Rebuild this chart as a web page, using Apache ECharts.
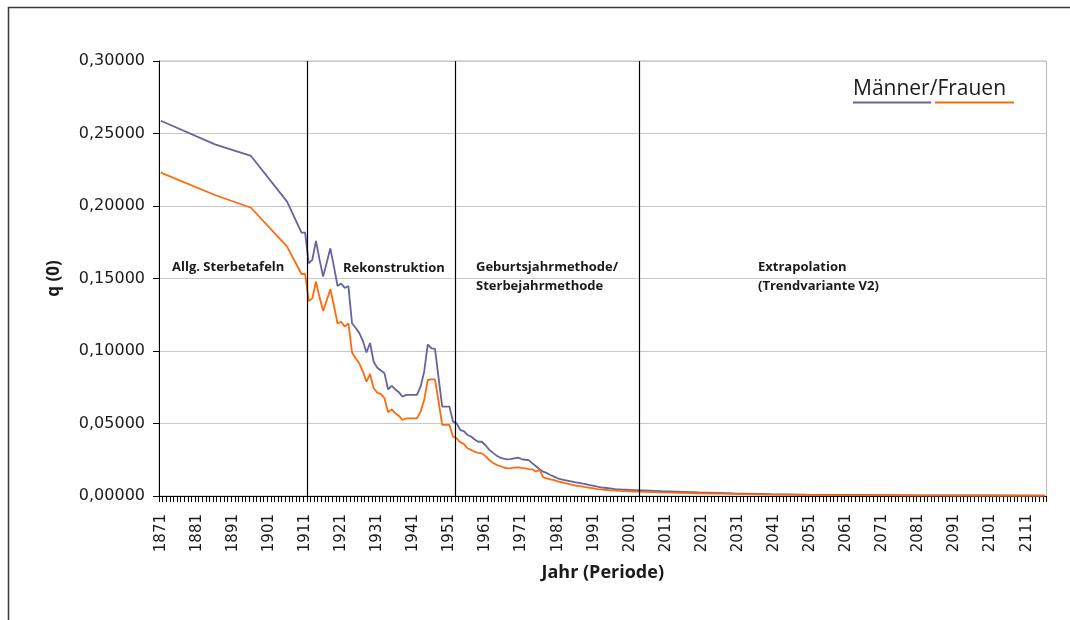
<!DOCTYPE html>
<html>
<head>
<meta charset="utf-8">
<script src="https://cdn.jsdelivr.net/npm/echarts@6/dist/echarts.min.js"></script>
<style>
html,body{margin:0;padding:0;background:#fff;}
#main{width:1070px;height:620px;}
</style>
</head>
<body>
<div id="main"></div>
<script>
// ---- data ----
const firstYear = 1871;
const lastYear = 2116;
const periodBreaks = [1911.5, 1952.75, 2003.5];
const menPoints = [
[1871,0.2588],[1886,0.2425],[1896,0.2345],[1906,0.2030],[1910,0.1816],[1911,0.1816],
[1912,0.1605],[1913,0.1628],[1914,0.1759],[1915,0.1630],[1916,0.1513],[1917,0.1610],[1918,0.1708],[1919,0.1580],
[1920,0.1448],[1921,0.1465],[1922,0.1435],[1923,0.1448],[1924,0.1191],[1925,0.1160],[1926,0.1125],[1927,0.1070],
[1928,0.0990],[1929,0.1055],[1930,0.0926],[1931,0.0885],[1932,0.0865],[1933,0.0846],[1934,0.0736],[1935,0.0759],
[1936,0.0735],[1937,0.0715],[1938,0.0685],[1939,0.0697],[1940,0.0697],[1941,0.0697],[1942,0.0697],[1943,0.0754],
[1944,0.0857],[1945,0.1046],[1946,0.1018],[1947,0.1014],[1948,0.0815],[1949,0.0616],[1950,0.0616],[1951,0.0616],
[1952,0.0513],[1953,0.0501],[1954,0.0455],[1955,0.0448],[1956,0.0421],[1957,0.0410],[1958,0.0390],[1959,0.0374],
[1960,0.0374],[1961,0.0350],[1962,0.0320],[1963,0.0299],[1964,0.0280],[1965,0.0265],[1966,0.0258],[1967,0.0253],
[1968,0.0255],[1969,0.0260],[1970,0.0264],[1971,0.0255],[1972,0.0250],[1973,0.0248],[1974,0.0225],[1975,0.0205],
[1976,0.0185],[1977,0.0168],[1978,0.0158],[1979,0.0145],[1980,0.0134],[1981,0.0122],[1982,0.0115],[1983,0.0109],
[1984,0.0104],[1985,0.0099],[1986,0.0094],[1987,0.0090],[1988,0.0085],[1989,0.0081],[1990,0.0075],[1991,0.0070],
[1992,0.0064],[1993,0.0060],[1994,0.0057],[1995,0.0054],[1996,0.0051],[1997,0.0048],[1998,0.0046],[1999,0.0044],
[2000,0.0043],[2001,0.0042],[2002,0.0041],[2003,0.0040],[2010,0.0033],[2020,0.0025],[2030,0.0018],[2040,0.0013],
[2050,0.0010],[2060,0.0008],[2080,0.0005],[2100,0.0004],[2116,0.0003]
];
const womenPoints = [
[1871,0.2230],[1886,0.2076],[1896,0.1988],[1906,0.1720],[1910,0.1531],[1911,0.1531],
[1912,0.1345],[1913,0.1363],[1914,0.1478],[1915,0.1370],[1916,0.1276],[1917,0.1350],[1918,0.1426],[1919,0.1310],
[1920,0.1190],[1921,0.1202],[1922,0.1168],[1923,0.1191],[1924,0.0990],[1925,0.0950],[1926,0.0915],[1927,0.0860],
[1928,0.0788],[1929,0.0841],[1930,0.0743],[1931,0.0713],[1932,0.0703],[1933,0.0674],[1934,0.0577],[1935,0.0598],
[1936,0.0570],[1937,0.0552],[1938,0.0524],[1939,0.0536],[1940,0.0536],[1941,0.0536],[1942,0.0536],[1943,0.0582],
[1944,0.0662],[1945,0.0800],[1946,0.0805],[1947,0.0805],[1948,0.0650],[1949,0.0490],[1950,0.0490],[1951,0.0490],
[1952,0.0409],[1953,0.0398],[1954,0.0370],[1955,0.0359],[1956,0.0329],[1957,0.0318],[1958,0.0305],[1959,0.0298],
[1960,0.0294],[1961,0.0275],[1962,0.0250],[1963,0.0230],[1964,0.0215],[1965,0.0207],[1966,0.0198],[1967,0.0191],
[1968,0.0192],[1969,0.0196],[1970,0.0198],[1971,0.0194],[1972,0.0191],[1973,0.0186],[1974,0.0184],[1975,0.0168],
[1976,0.0180],[1977,0.0129],[1978,0.0122],[1979,0.0115],[1980,0.0110],[1981,0.0101],[1982,0.0095],[1983,0.0089],
[1984,0.0083],[1985,0.0076],[1986,0.0072],[1987,0.0068],[1988,0.0064],[1989,0.0060],[1990,0.0056],[1991,0.0052],
[1992,0.0048],[1993,0.0046],[1994,0.0043],[1995,0.0041],[1996,0.0039],[1997,0.0037],[1998,0.0035],[1999,0.0034],
[2000,0.0033],[2001,0.0032],[2002,0.0031],[2003,0.0030],[2010,0.0025],[2020,0.0019],[2030,0.0014],[2040,0.0010],
[2050,0.0008],[2060,0.0006],[2080,0.0004],[2100,0.0003],[2116,0.0002]
];
const yTicks = {min:0, max:0.30, interval:0.05};
const periodLabels = [
  {text:'Allg. Sterbetafeln', x:172, y:267},
  {text:'Rekonstruktion', x:343, y:268},
  {text:'Geburtsjahrmethode/\nSterbejahrmethode', x:476, y:277},
  {text:'Extrapolation\n(Trendvariante V2)', x:758, y:277}
];
const legendText = 'Männer/Frauen';

// ---- build ----
const years = [];
for (let y = firstYear; y <= lastYear; y++) years.push(String(y));
function toSeries(points){
  const arr = years.map(() => null);
  points.forEach(p => { arr[p[0]-firstYear] = p[1]; });
  return arr;
}

const chart = echarts.init(document.getElementById('main'), null, {renderer:'canvas'});
const tickFont = 'DejaVu Sans';
const textFont = '"Open Sans", "DejaVu Sans", sans-serif';

const option = {
  animation:false,
  backgroundColor:'#fff',
  grid:{left:159, right:23.5, top:61, bottom:124, show:true, borderColor:'#b8b8b8', borderWidth:1, containLabel:false},
  xAxis:[{
    type:'category', data:years, boundaryGap:true,
    name:'Jahr (Periode)', nameLocation:'middle', nameGap:68,
    nameTextStyle:{fontFamily:textFont, fontWeight:'bold', fontSize:18, color:'#1a1a1a'},
    axisLine:{show:true, lineStyle:{color:'#000', width:1}},
    axisTick:{show:true, interval:0, length:6, lineStyle:{color:'#000', width:1}},
    axisLabel:{interval:9, rotate:90, margin:18, fontFamily:tickFont, fontSize:15, color:'#1a1a1a'},
    splitLine:{show:false}
  },{
    type:'value', min:firstYear-0.5, max:lastYear+0.5, show:false, splitLine:{show:false}
  }],
  yAxis:{
    type:'value', min:yTicks.min, max:yTicks.max, interval:yTicks.interval,
    name:'q (0)', nameLocation:'middle', nameGap:96, nameRotate:90,
    nameTextStyle:{fontFamily:textFont, fontWeight:'bold', fontSize:17, color:'#1a1a1a'},
    axisLine:{show:true, lineStyle:{color:'#000', width:1}},
    axisTick:{show:true, length:6, lineStyle:{color:'#000'}},
    axisLabel:{margin:14, fontFamily:tickFont, fontSize:16, color:'#1a1a1a',
      formatter:v => v.toFixed(5).replace('.', ',')},
    splitLine:{show:true, lineStyle:{color:'#c8c8c8', width:1}}
  },
  series:[
    {name:'Männer', type:'line', data:toSeries(menPoints), connectNulls:true, showSymbol:false, symbol:'none',
     lineStyle:{color:'#64649e', width:1.8}, itemStyle:{color:'#64649e'}, z:3},
    {name:'Frauen', type:'line', data:toSeries(womenPoints), connectNulls:true, showSymbol:false, symbol:'none',
     lineStyle:{color:'#ff6a0e', width:1.8}, itemStyle:{color:'#ff6a0e'}, z:4},
    {name:'breaks', type:'line', xAxisIndex:1, data:[], symbol:'none', silent:true,
     markLine:{silent:true, symbol:['none','none'], label:{show:false},
       lineStyle:{color:'#000', width:1.2, type:'solid'},
       data:periodBreaks.map(v => ({xAxis:v}))}, z:5}
  ],
  graphic:[
    {type:'rect', left:6, top:5, silent:true, z:-1,
     shape:{x:0, y:0, width:1200, height:800},
     style:{fill:'none', stroke:'#3a3a3a', lineWidth:1.5}},
    ...periodLabels.map(l => ({type:'text', x:l.x, y:l.y, silent:true,
      style:{text:l.text, fontFamily:textFont, fontWeight:'bold', fontSize:13, fill:'#1a1a1a',
        textAlign:'left', textVerticalAlign:'middle', lineHeight:19}})),
    {type:'text', x:853, y:89, silent:true,
     style:{text:legendText, fontFamily:textFont, fontSize:21, fill:'#1a1a1a', textAlign:'left', textVerticalAlign:'middle'}},
    {type:'line', silent:true, shape:{x1:853, y1:102.5, x2:931, y2:102.5}, style:{stroke:'#64649e', lineWidth:2}},
    {type:'line', silent:true, shape:{x1:935, y1:102.5, x2:1014, y2:102.5}, style:{stroke:'#ff6a0e', lineWidth:2}}
  ]
};
chart.setOption(option);
</script>
</body>
</html>
